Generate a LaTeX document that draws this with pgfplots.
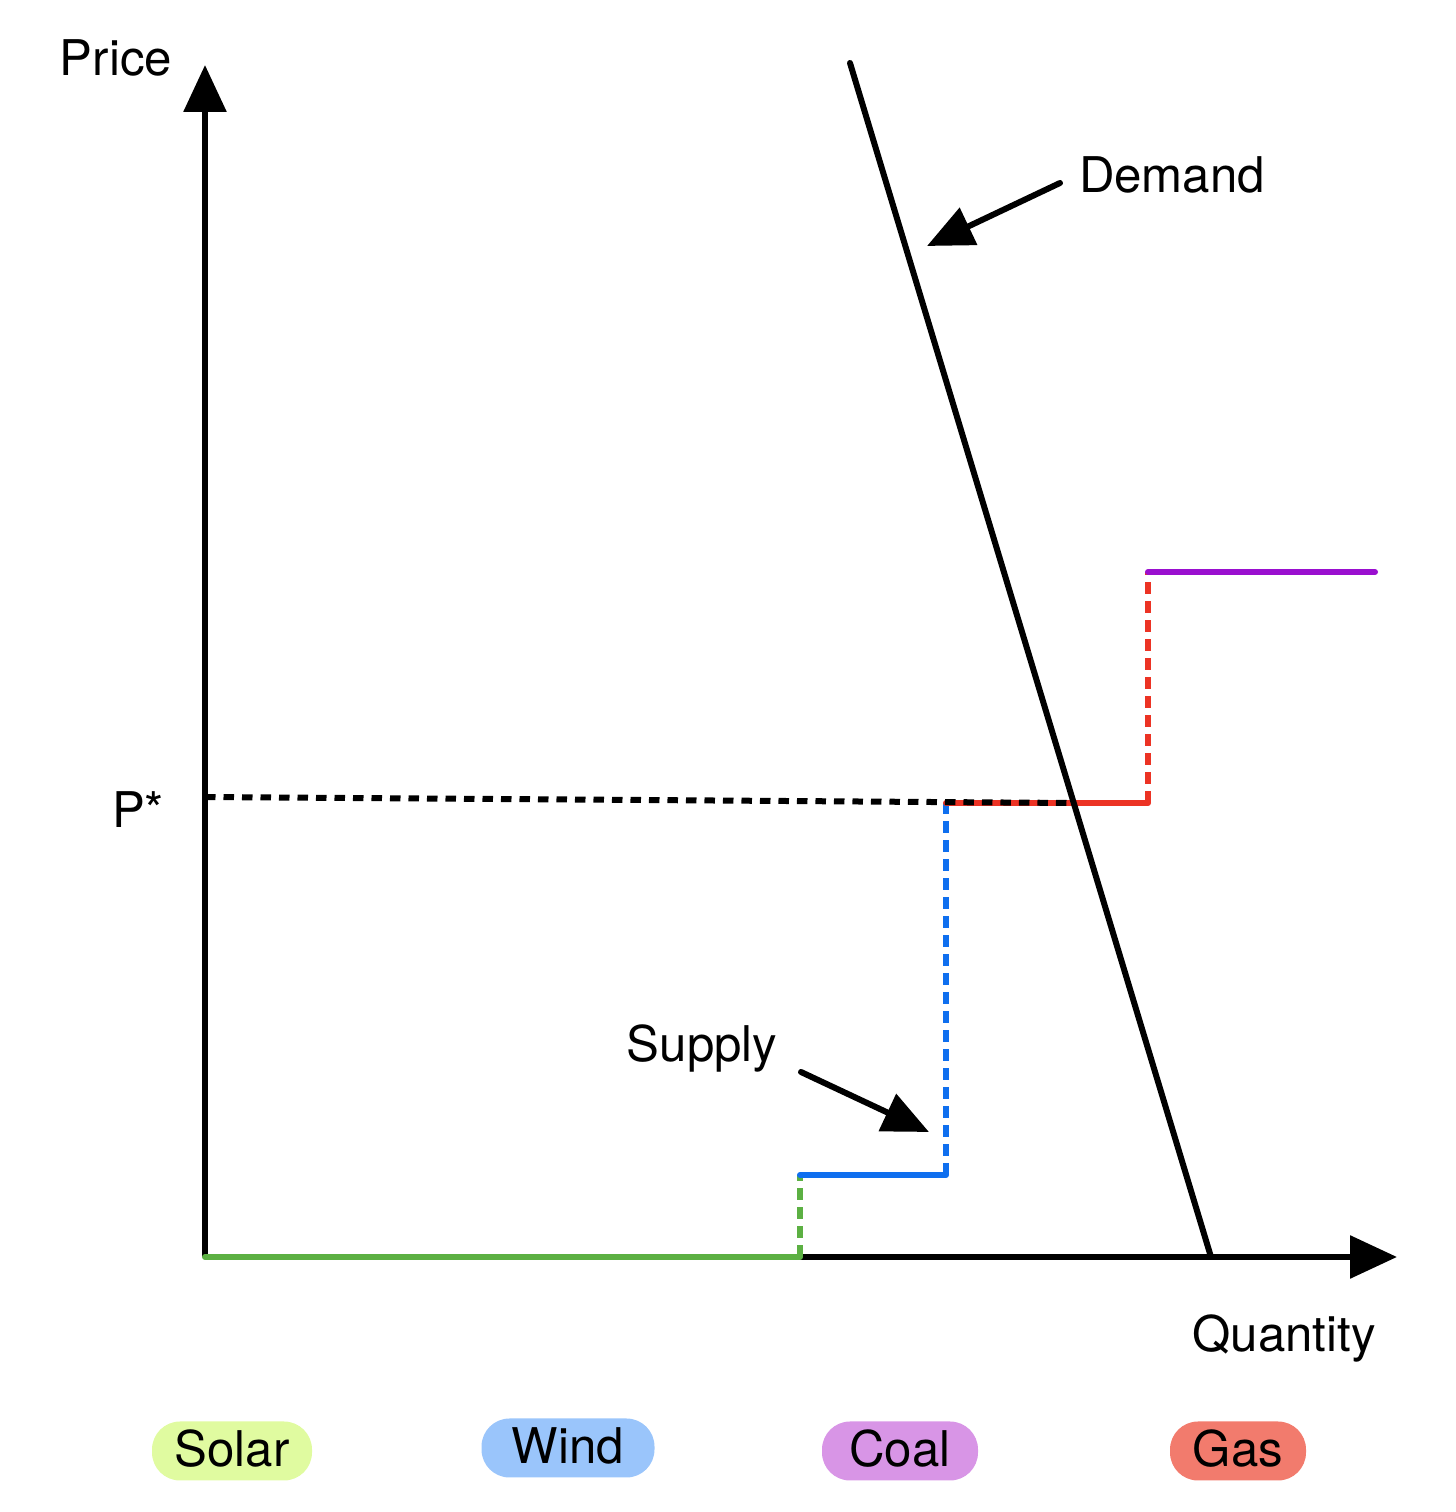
\documentclass[border=0pt]{standalone}
\usepackage{pgfplots}
\pgfplotsset{compat=1.18}
\usepackage{fontspec}
\setmainfont{TeX Gyre Heros}
\usetikzlibrary{arrows.meta}
\definecolor{solarfill}{HTML}{E0FBA0}
\definecolor{windfill}{HTML}{9AC5FB}
\definecolor{coalfill}{HTML}{D895E6}
\definecolor{gasfill}{HTML}{F27B6D}
\definecolor{sgreen}{HTML}{5CB043}
\definecolor{sblue}{HTML}{0F6FEF}
\definecolor{sred}{HTML}{EC3324}
\definecolor{spurple}{HTML}{9A0FCF}
\begin{document}
\begin{tikzpicture}
\begin{axis}[scale only axis, width=14.56cm, height=15.12cm,
  xmin=0, xmax=1456, ymin=0, ymax=1512,
  axis lines=none, ticks=none, clip=false, no markers,
  every axis plot/.append style={line width=0.6mm, line cap=round, line join=round}]
\path (rel axis cs:0,0) rectangle (rel axis cs:1,1);
% axes
\addplot[black, line cap=butt, -{Triangle[length=4.7mm,width=4.2mm]}] coordinates {(205,255) (1397,255)};
\addplot[black, line cap=butt, -{Triangle[length=4.7mm,width=4.2mm]}] coordinates {(205,255) (205,1447)};
% supply steps
\addplot[sgreen] coordinates {(205,255) (800,255)};
\addplot[sgreen, line cap=butt, dash pattern=on 1.15mm off 0.75mm] coordinates {(800,255) (800,337)};
\addplot[sblue] coordinates {(800,337) (946,337)};
\addplot[sblue, line cap=butt, dash pattern=on 1.15mm off 0.75mm] coordinates {(946,337) (946,709)};
\addplot[sred] coordinates {(946,709) (1148,709)};
\addplot[sred, line cap=butt, dash pattern=on 1.15mm off 0.75mm] coordinates {(1148,709) (1148,940)};
\addplot[spurple] coordinates {(1148,940) (1375,940)};
% price line
\addplot[black, line cap=butt, dash pattern=on 1.05mm off 0.8mm] coordinates {(205,715) (1075,709)};
% demand
\addplot[black] coordinates {(850,1449) (1211,255)};
% annotation arrows
\addplot[black, -{Triangle[length=4.6mm,width=4.0mm]}] coordinates {(1060,1329) (927,1266)};
\addplot[black, -{Triangle[length=4.6mm,width=4.0mm]}] coordinates {(801,440) (929,380)};
% labels
\node[anchor=base, font=\fontsize{14}{16}\selectfont] at (axis cs:116,1436) {Price};
\node[anchor=base, font=\fontsize{14}{16}\selectfont] at (axis cs:1172,1319) {Demand};
\node[anchor=base, font=\fontsize{14}{16}\selectfont] at (axis cs:138,684) {P*};
\node[anchor=base, font=\fontsize{14}{16}\selectfont] at (axis cs:702,450) {Supply};
\node[anchor=base, font=\fontsize{14}{16}\selectfont] at (axis cs:1284,160) {Quantity};
% legend pills
\tikzset{pill/.style={font=\fontsize{14}{16}\selectfont, rounded corners=2.8mm, minimum height=5.9mm, inner sep=0pt, text height=3.1mm, text depth=0pt}}
\node[pill, fill=solarfill, minimum width=16mm] at (axis cs:232,61) {Solar};
\node[pill, fill=windfill, minimum width=17.3mm] at (axis cs:568,64) {Wind};
\node[pill, fill=coalfill, minimum width=15.6mm] at (axis cs:900,61) {Coal};
\node[pill, fill=gasfill, minimum width=13.6mm] at (axis cs:1238,61) {Gas};
\end{axis}
\end{tikzpicture}
\end{document}
